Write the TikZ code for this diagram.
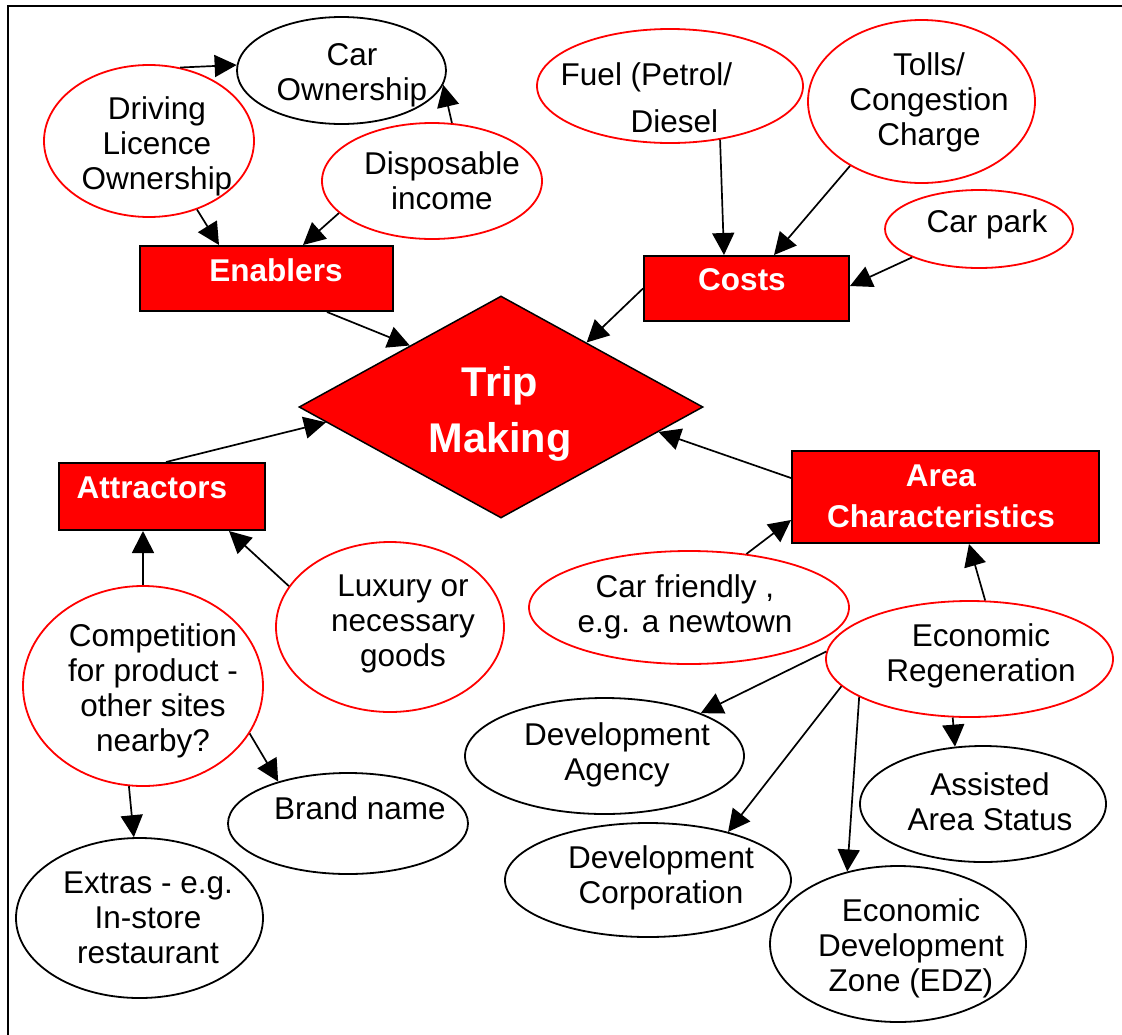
\documentclass[tikz,border=0pt]{standalone}
\usepackage{fontspec}
\setmainfont{Liberation Sans}
\usetikzlibrary{shapes.geometric,arrows.meta}
\definecolor{pred}{RGB}{255,0,0}
\begin{document}
\begin{tikzpicture}[x=1pt,y=-1pt,
 rell/.style={ellipse,draw=pred,line width=1.8pt,inner sep=0pt},
 bell/.style={ellipse,draw=black,line width=1.8pt,inner sep=0pt},
 box/.style={rectangle,draw=black,fill=pred,line width=2pt,inner sep=0pt},
 txt/.style={font=\fontsize{31.5}{35}\selectfont,align=center,inner sep=0pt},
 btxt/.style={font=\fontsize{31.5}{41}\selectfont\bfseries,text=white,align=center,inner sep=0pt},
 arr/.style={-{Triangle[length=22pt,width=22pt]},line width=1.7pt}]
\useasboundingbox (0,0) rectangle (1122,1034);
% frame
\draw[line width=2pt] (8,1040) -- (8,6) -- (1130,6);

% shapes
\node[bell,minimum width=209pt,minimum height=107pt] (co) at (341.5,70.5) {};
\node[rell,minimum width=210pt,minimum height=152pt] (dl) at (149,141) {};
\node[rell,minimum width=220pt,minimum height=116pt] (di) at (432,181) {};
\node[rell,minimum width=266pt,minimum height=114pt] (fu) at (670,86) {};
\node[rell,minimum width=227pt,minimum height=163pt] (to) at (921.5,101.5) {};
\node[rell,minimum width=188pt,minimum height=78pt] (cp) at (979,229) {};
\node[box,minimum width=253pt,minimum height=65pt] (en) at (266.5,278.5) {};
\node[box,minimum width=205pt,minimum height=65pt] (cs) at (746.5,288.5) {};
\node[diamond,draw=black,fill=pred,line width=1.5pt,inner sep=0pt,minimum width=404pt,minimum height=222pt] (tm) at (501,407) {};
\node[box,minimum width=206pt,minimum height=67pt] (at) at (162,496.5) {};
\node[box,minimum width=307pt,minimum height=92pt] (ac) at (945.5,497) {};
\node[rell,minimum width=240pt,minimum height=200pt] (comp) at (143,686) {};
\node[rell,minimum width=228pt,minimum height=170pt] (lux) at (390,627) {};
\node[bell,minimum width=240pt,minimum height=101pt] (brand) at (348,823.5) {};
\node[bell,minimum width=247pt,minimum height=160pt] (extras) at (139.5,918) {};
\node[rell,minimum width=320pt,minimum height=113pt] (cf) at (689,607.5) {};
\node[rell,minimum width=287pt,minimum height=116pt] (er) at (969.5,659) {};
\node[bell,minimum width=279pt,minimum height=116pt] (da) at (604.5,756) {};
\node[bell,minimum width=286pt,minimum height=114pt] (dc) at (648,880) {};
\node[bell,minimum width=246pt,minimum height=116pt] (as) at (983,804) {};
\node[bell,minimum width=256pt,minimum height=156pt] (edz) at (898,944) {};

% texts
\node[txt] (co-t) at (352,75) {Car\\Ownership};
\node[txt] (dl-t) at (157,146) {Driving\\Licence\\Ownership};
\node[txt] (di-t) at (442,180.5) {Disposable\\income};
\node[txt,align=left] (fu-t) at (646.5,97.5) {Fuel (Petrol/\\[12pt]\hspace*{70pt}Diesel};
\node[txt] (to-t) at (929,102) {Tolls/\\Congestion\\Charge};
\node[txt] (cp-t) at (987,224) {Car park};
\node[btxt] (en-t) at (276,270) {Enablers};
\node[btxt] (cs-t) at (742,280) {Costs};
\node[btxt,font=\fontsize{41.5}{56}\selectfont\bfseries] (tm-t) at (500,414) {Trip\\Making};
\node[btxt] (at-t) at (152,488) {Attractors};
\node[btxt] (ac-t) at (941,496.5) {Area\\Characteristics};
\node[txt] (comp-t) at (153,690.5) {Competition\\for product -\\other sites\\nearby?};
\node[txt] (lux-t) at (403,624) {Luxury or\\necessary\\goods};
\node[txt] (brand-t) at (360,808) {Brand name};
\node[txt] (extras-t) at (148,918) {Extras - e.g.\\In-store\\restaurant};
\node[txt] (cf-t) at (685,607) {Car friendly ,\\e.g. a newtown};
\node[txt] (er-t) at (981,656) {Economic\\Regeneration};
\node[txt] (da-t) at (617,754.5) {Development\\Agency};
\node[txt] (dc-t) at (661,877.5) {Development\\Corporation};
\node[txt] (as-t) at (990,801.5) {Assisted\\Area Status};
\node[txt] (edz-t) at (911,948) {Economic\\Development\\Zone (EDZ)};

% connectors
\draw[arr] (dl.67) -- (co.177);
\draw[arr] (di.71) -- (co.352);
\draw[arr] (dl.305) -- ([xshift=-47.5pt]en.north);
\draw[arr] (di.199) -- ([xshift=36.5pt]en.north);
\draw[arr] ([xshift=60.5pt]en.south) -- (tm.146.6);
\draw[arr] (fu.313) -- ([xshift=-22.5pt]cs.north);
\draw[arr] (to.222) -- ([xshift=27.5pt]cs.north);
\draw[arr] (cp.203) -- ([yshift=2.5pt]cs.east);
\draw[arr] (cs.west) -- (tm.37.6);
\draw[arr] ([xshift=4pt]at.north) -- (tm.185);
\draw[arr] ([yshift=19pt]ac.west) -- (tm.351);
\draw[arr] (comp.90) -- ([xshift=-19pt]at.south);
\draw[arr] (lux.158) -- ([xshift=67pt]at.south);
\draw[arr] (comp.336.5) -- (brand.149);
\draw[arr] (comp.262.6) -- (extras.94.6);
\draw[arr] (cf.43) -- ([yshift=-23pt]ac.west);
\draw[arr] (er.75.5) -- ([xshift=23.5pt]ac.south);
\draw[arr] (er.177.2) -- (da.24);
\draw[arr] (er.192.4) -- (dc.31.3);
\draw[arr] (er.199) -- (edz.125.2);
\draw[arr] (er.254.4) -- (as.116.6);
\end{tikzpicture}
\end{document}
